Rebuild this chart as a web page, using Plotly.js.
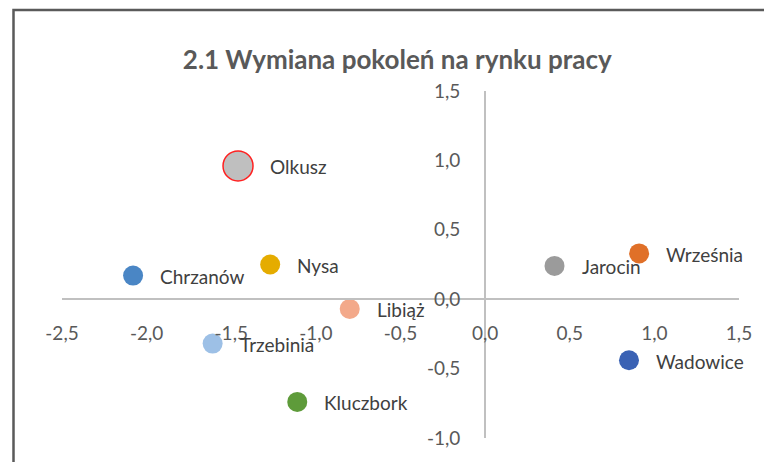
<!DOCTYPE html>
<html>
<head>
<meta charset="utf-8">
<script src="https://cdn.plot.ly/plotly-3.0.1.min.js"></script>
<style>
  html, body { margin: 0; padding: 0; background: #ffffff; }
  #chart { width: 764px; height: 462px; }
</style>
</head>
<body>
<div id="chart"></div>
<script>
// ---- data ----
const names = ["Olkusz", "Chrzanów", "Nysa", "Libiąż", "Jarocin", "Września", "Wadowice", "Trzebinia", "Kluczbork"];
const xValues = [-1.46, -2.08, -1.27, -0.80, 0.41, 0.91, 0.85, -1.61, -1.11];
const yValues = [0.96, 0.17, 0.25, -0.07, 0.24, 0.33, -0.44, -0.32, -0.74];
const pointColors = ["#bfbfbf", "#4a86c5", "#e5ac00", "#f3a98a", "#9b9b9b", "#e07028", "#3a62b4", "#9dc0e6", "#5e9b3a"];
const xTickVals = [-2.5, -2.0, -1.5, -1.0, -0.5, 0.0, 0.5, 1.0, 1.5];
const xTickText = ["-2,5", "-2,0", "-1,5", "-1,0", "-0,5", "0,0", "0,5", "1,0", "1,5"];
const yTickVals = [-1.0, -0.5, 0.0, 0.5, 1.0, 1.5];
const yTickText = ["-1,0", "-0,5", "0,0", "0,5", "1,0", "1,5"];
const chartTitle = "2.1 Wymiana pokoleń na rynku pracy";

// ---- styling ----
const FONT = "Lato, 'Open Sans', sans-serif";
const markerSizes = names.map((n, i) => i === 0 ? 30 : 20);
const markerLineColors = names.map((n, i) => i === 0 ? "#ff2020" : "rgba(0,0,0,0)");
const markerLineWidths = names.map((n, i) => i === 0 ? 1.5 : 0);

const trace = {
  type: "scatter",
  mode: "markers",
  x: xValues,
  y: yValues,
  marker: {
    color: pointColors,
    size: markerSizes,
    line: { color: markerLineColors, width: markerLineWidths },
    opacity: 1
  },
  hoverinfo: "text",
  text: names,
  cliponaxis: false
};

const annotations = names.map((n, i) => ({
  x: xValues[i],
  y: yValues[i],
  xref: "x",
  yref: "y",
  text: n,
  showarrow: false,
  xanchor: "left",
  yanchor: "middle",
  xshift: markerSizes[i] / 2 + 15,
  yshift: -1,
  font: { family: FONT, size: 19, color: "#404040" }
}));

const xr = [-2.5, 1.5], yr = [-1.0, 1.5];
const L = 62, R = 25, T = 91, B = 24, W = 764, H = 462;
const pw = W - L - R, ph = H - T - B;
const px = v => (v - L) / pw;
const py = v => (H - B - v) / ph;

const layout = {
  width: W,
  height: H,
  margin: { l: L, r: R, t: T, b: B, pad: 0 },
  paper_bgcolor: "#ffffff",
  plot_bgcolor: "rgba(0,0,0,0)",
  showlegend: false,
  title: {
    text: "<b>" + chartTitle + "</b>",
    x: 0.52,
    xanchor: "center",
    y: 1 - 60 / H,
    yanchor: "middle",
    font: { family: FONT, size: 26, color: "#595959" }
  },
  xaxis: {
    range: xr,
    anchor: "free",
    position: (0 - yr[0]) / (yr[1] - yr[0]),
    showline: true,
    linecolor: "#c0c0c0",
    linewidth: 2,
    showgrid: false,
    zeroline: false,
    tickmode: "array",
    tickvals: xTickVals,
    ticktext: xTickText,
    ticks: "",
    ticklabelstandoff: 17,
    tickfont: { family: FONT, size: 19, color: "#595959" },
    fixedrange: true
  },
  yaxis: {
    range: yr,
    anchor: "free",
    position: (0 - xr[0]) / (xr[1] - xr[0]),
    showline: true,
    linecolor: "#c0c0c0",
    linewidth: 2,
    showgrid: false,
    zeroline: false,
    tickmode: "array",
    tickvals: yTickVals,
    ticktext: yTickText,
    ticks: "",
    ticklabelstandoff: 20,
    tickfont: { family: FONT, size: 19, color: "#595959" },
    fixedrange: true
  },
  annotations: annotations,
  shapes: [{
    type: "rect",
    xref: "paper",
    yref: "paper",
    x0: px(13.5),
    x1: px(800),
    y0: py(500),
    y1: py(10),
    line: { color: "#5a5a5a", width: 2.5 },
    fillcolor: "rgba(0,0,0,0)",
    layer: "below"
  }]
};

Plotly.newPlot("chart", [trace], layout, { displayModeBar: false, staticPlot: true });
</script>
</body>
</html>
